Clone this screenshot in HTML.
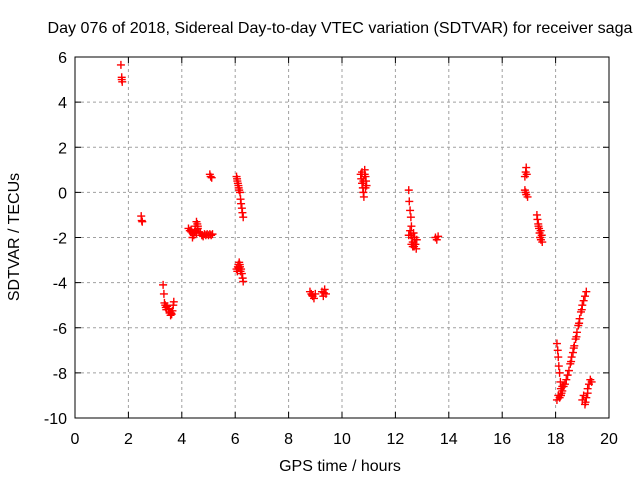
<!DOCTYPE html>
<html><head><meta charset="utf-8"><style>
html,body{margin:0;padding:0;background:#fff;}
svg{display:block;font-family:"Liberation Sans",sans-serif;}
</style></head><body>
<svg id="chart" width="640" height="480" xmlns="http://www.w3.org/2000/svg">
<rect width="640" height="480" fill="#fff"/>
<text x="340" y="33" font-size="16" text-anchor="middle" textLength="585" lengthAdjust="spacingAndGlyphs">Day 076 of 2018, Sidereal Day-to-day VTEC variation (SDTVAR) for receiver saga</text>
<g id="grid"></g>
<g id="ticks"></g>
<g id="marks"></g>
<rect x="75" y="57" width="534" height="361" fill="none" stroke="#000" stroke-width="1"/>
<text x="340" y="471" font-size="16" text-anchor="middle">GPS time / hours</text>
<text transform="translate(19,237) rotate(-90)" font-size="16" text-anchor="middle">SDTVAR / TECUs</text>
</svg>
<script>
const xTicks=[0,2,4,6,8,10,12,14,16,18,20];
const yTicks=[6,4,2,0,-2,-4,-6,-8,-10];
const hours=[1.72,1.75,1.75,1.77,
2.48,2.5,2.52,
3.3,3.33,3.35,3.38,3.4,3.45,3.5,3.55,3.6,3.65,3.68,3.7,3.62,3.52,3.42,3.58,
4.25,4.3,4.35,4.4,4.45,4.5,4.55,4.58,4.6,4.65,4.7,4.75,4.8,4.85,4.9,4.95,5.0,5.05,5.1,5.15,4.4,4.5,4.6,4.55,4.35,
5.05,5.08,5.12,
6.05,6.08,6.1,6.12,6.15,6.18,6.2,6.22,6.25,6.27,6.3,6.07,6.13,
6.05,6.1,6.12,6.15,6.18,6.2,6.22,6.25,6.28,6.3,6.08,6.13,6.17,
8.8,8.85,8.9,8.95,9.0,9.25,9.3,9.35,9.4,8.88,9.32,
10.7,10.72,10.75,10.78,10.8,10.82,10.85,10.88,10.9,10.92,10.75,10.8,10.85,10.78,10.88,
12.5,12.52,12.55,12.58,12.6,12.55,12.5,12.62,12.65,12.7,12.75,12.8,12.78,12.68,12.6,12.72,12.65,12.58,
13.5,13.55,13.6,
16.85,16.88,16.9,16.92,16.85,16.88,16.9,16.95,
17.3,17.32,17.35,17.38,17.4,17.42,17.45,17.48,17.5,17.36,17.44,
18.05,18.08,18.1,18.12,18.15,18.18,18.2,18.05,18.1,18.15,18.22,18.25,18.2,
18.2,18.25,18.3,18.35,18.4,18.45,18.5,18.55,18.6,18.65,18.7,18.75,18.8,18.85,18.9,18.95,19.0,19.05,19.1,19.15,18.58,18.68,18.78,18.88,18.98,
19.0,19.05,19.1,19.15,19.2,19.3,19.35,19.25,19.12,19.2];
const sdtvar=[5.65,5.1,5.0,4.9,
-1.05,-1.25,-1.3,
-4.1,-4.5,-4.9,-5.0,-5.1,-5.05,-5.2,-5.3,-5.35,-5.25,-5.0,-4.85,-5.4,-5.15,-5.2,-5.45,
-1.6,-1.7,-1.65,-1.8,-1.9,-1.5,-1.3,-1.4,-1.6,-1.75,-1.8,-1.9,-1.95,-1.85,-1.9,-1.85,-1.9,-1.85,-1.9,-1.85,-2.0,-1.7,-1.5,-1.8,-1.75,
0.8,0.7,0.65,
0.7,0.5,0.4,0.3,0.1,0,-0.3,-0.5,-0.7,-0.9,-1.1,0.6,0.2,
-3.4,-3.3,-3.2,-3.1,-3.3,-3.5,-3.4,-3.6,-3.8,-3.95,-3.5,-3.35,-3.2,
-4.4,-4.5,-4.6,-4.7,-4.5,-4.4,-4.6,-4.3,-4.5,-4.55,-4.45,
0.8,0.6,0.4,0.2,0,-0.2,1.0,0.7,0.5,0.3,0.9,0.5,0.8,0.4,0.2,
0.1,-0.4,-0.8,-1.1,-1.5,-1.7,-1.9,-2.0,-2.2,-2.4,-2.3,-2.1,-2.5,-1.8,-2.3,-2.0,-2.4,-1.9,
-2.0,-2.1,-1.95,
0.7,0.9,1.1,0.8,0.1,0,-0.1,-0.2,
-1.0,-1.2,-1.4,-1.6,-1.8,-2.0,-2.1,-1.9,-2.2,-1.5,-1.7,
-6.7,-7.0,-7.3,-7.7,-8.0,-8.4,-8.7,-9.2,-9.0,-9.1,-8.9,-8.6,-9.0,
-9.0,-8.8,-8.6,-8.5,-8.3,-8.1,-7.9,-7.6,-7.3,-7.1,-6.8,-6.5,-6.2,-5.9,-5.6,-5.3,-5.0,-4.8,-4.6,-4.4,-7.5,-6.9,-6.4,-5.8,-5.2,
-9.2,-9.0,-9.4,-9.1,-8.9,-8.3,-8.4,-8.5,-9.3,-8.7];
const NS='http://www.w3.org/2000/svg';
const X0=75,X1=609,Y0=418,Y1=57;
function xs(v){return X0+(v-0)/(20-0)*(X1-X0);}
function ys(v){return Y0-(v-(-10))/(6-(-10))*(Y0-Y1);}
function mk(tag,attrs,parent){const e=document.createElementNS(NS,tag);for(const k in attrs)e.setAttribute(k,attrs[k]);parent.appendChild(e);return e;}
const grid=document.getElementById('grid'),ticks=document.getElementById('ticks'),marks=document.getElementById('marks');
xTicks.forEach(t=>{const x=xs(t);
 if(t>0&&t<20){const g=mk('line',{x1:x,x2:x,y1:Y1,y2:Y0,stroke:'#a0a0a0','stroke-dasharray':'3,3'},grid);
 
 }
 mk('line',{x1:x,x2:x,y1:Y0,y2:Y0-6,stroke:'#000'},ticks);
 mk('line',{x1:x,x2:x,y1:Y1,y2:Y1+6,stroke:'#000'},ticks);
 const l=mk('text',{x:x,y:Y0+26,'font-size':16,'text-anchor':'middle'},ticks);l.textContent=t;
 
 });
yTicks.forEach(t=>{const y=ys(t);
 if(t>-10&&t<6){const g=mk('line',{x1:X0,x2:X1,y1:y,y2:y,stroke:'#a0a0a0','stroke-dasharray':'3,3'},grid);
 
 }
 mk('line',{x1:X0,x2:X0+6,y1:y,y2:y,stroke:'#000'},ticks);
 mk('line',{x1:X1,x2:X1-6,y1:y,y2:y,stroke:'#000'},ticks);
 const l=mk('text',{x:X0-8,y:y+6,'font-size':16,'text-anchor':'end'},ticks);l.textContent=t;
 
 });
hours.forEach((h,i)=>{const x=xs(h),y=ys(sdtvar[i]);
 const p=mk('path',{d:`M${x-4},${y}H${x+4}M${x},${y-4}V${y+4}`,stroke:'#f00','stroke-width':1.4,fill:'none'},marks);
 
 });
</script>
</body></html>
